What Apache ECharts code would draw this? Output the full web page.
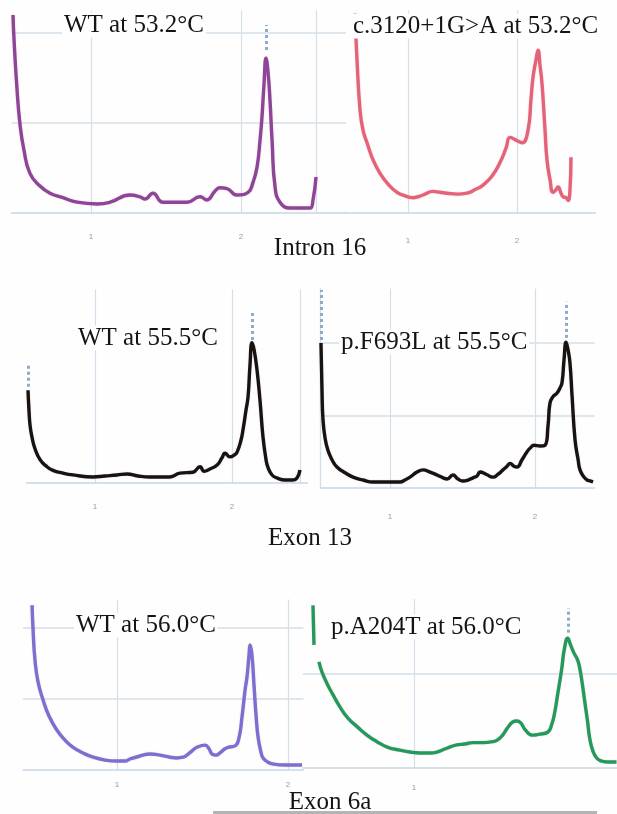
<!DOCTYPE html>
<html>
<head>
<meta charset="utf-8">
<script src="https://cdn.jsdelivr.net/npm/echarts@6/dist/echarts.min.js"></script>
<style>
  html, body { margin: 0; padding: 0; background: #fffefe; }
  #chart { width: 617px; height: 814px; }
</style>
</head>
<body>
<div id="chart"></div>
<script>
// melting curves, [x, -dF/dT]
var wt532 = [[0.48,2.2],[0.487,1.92],[0.507,1.37],[0.527,0.98],[0.553,0.70],[0.593,0.44],[0.66,0.30],[0.727,0.22],[0.813,0.17],[0.907,0.12],[1.04,0.10],[1.127,0.12],[1.26,0.20],[1.327,0.18],[1.36,0.155],[1.413,0.22],[1.48,0.12],[1.64,0.12],[1.727,0.18],[1.773,0.145],[1.827,0.245],[1.86,0.28],[1.907,0.27],[1.973,0.20],[2.047,0.23],[2.08,0.34],[2.107,0.51],[2.127,0.81],[2.14,1.07],[2.153,1.42],[2.167,1.72],[2.18,1.57],[2.193,1.26],[2.207,0.81],[2.227,0.29],[2.26,0.12],[2.327,0.055],[2.46,0.055],[2.48,0.145],[2.5,0.40]];
var mut3120 = [[0.514,2.22],[0.532,1.70],[0.56,1.14],[0.587,0.92],[0.624,0.78],[0.679,0.59],[0.743,0.44],[0.817,0.32],[0.899,0.23],[0.972,0.19],[1.046,0.17],[1.138,0.20],[1.229,0.24],[1.294,0.23],[1.358,0.22],[1.45,0.21],[1.541,0.22],[1.615,0.26],[1.688,0.31],[1.771,0.41],[1.844,0.56],[1.899,0.72],[1.936,0.84],[1.991,0.81],[2.046,0.78],[2.101,0.92],[2.128,1.26],[2.147,1.51],[2.174,1.70],[2.193,1.81],[2.211,1.64],[2.229,1.44],[2.257,0.92],[2.275,0.59],[2.303,0.37],[2.33,0.23],[2.358,0.26],[2.376,0.29],[2.404,0.22],[2.422,0.18],[2.45,0.17],[2.468,0.14],[2.486,0.26],[2.495,0.62]];
var wt555 = [[0.511,1.03],[0.518,0.81],[0.526,0.64],[0.54,0.51],[0.562,0.38],[0.599,0.26],[0.642,0.19],[0.693,0.14],[0.766,0.11],[0.839,0.09],[0.985,0.067],[1.073,0.078],[1.161,0.089],[1.234,0.10],[1.314,0.078],[1.401,0.067],[1.547,0.067],[1.62,0.11],[1.715,0.12],[1.766,0.18],[1.796,0.13],[1.839,0.156],[1.891,0.20],[1.927,0.28],[1.949,0.33],[1.985,0.29],[2.015,0.31],[2.036,0.34],[2.066,0.48],[2.08,0.59],[2.102,0.81],[2.117,0.96],[2.131,1.31],[2.146,1.56],[2.161,1.48],[2.182,1.26],[2.204,0.92],[2.226,0.51],[2.248,0.26],[2.263,0.17],[2.292,0.089],[2.328,0.056],[2.387,0.033],[2.445,0.033],[2.474,0.056],[2.496,0.144]];
var f693l = [[0.524,2.0],[0.531,1.35],[0.538,0.94],[0.552,0.69],[0.572,0.52],[0.6,0.39],[0.634,0.29],[0.69,0.21],[0.745,0.15],[0.814,0.11],[0.883,0.083],[1.0,0.083],[1.069,0.083],[1.103,0.11],[1.138,0.15],[1.186,0.22],[1.228,0.25],[1.276,0.22],[1.324,0.18],[1.366,0.14],[1.393,0.124],[1.434,0.18],[1.469,0.124],[1.503,0.097],[1.538,0.11],[1.572,0.14],[1.6,0.166],[1.621,0.22],[1.662,0.19],[1.71,0.15],[1.745,0.19],[1.779,0.25],[1.807,0.30],[1.828,0.34],[1.855,0.30],[1.876,0.29],[1.91,0.39],[1.945,0.50],[1.966,0.55],[1.993,0.59],[2.034,0.58],[2.069,0.59],[2.09,0.87],[2.103,1.17],[2.124,1.26],[2.152,1.31],[2.172,1.38],[2.186,1.45],[2.2,1.77],[2.214,2.01],[2.228,1.90],[2.241,1.72],[2.255,1.28],[2.276,0.66],[2.297,0.39],[2.31,0.25],[2.338,0.15],[2.359,0.11],[2.379,0.097],[2.4,0.083]];
var wt560 = [[0.503,2.32],[0.509,1.97],[0.52,1.55],[0.538,1.24],[0.567,0.99],[0.602,0.76],[0.649,0.56],[0.696,0.42],[0.743,0.32],[0.801,0.24],[0.86,0.18],[0.93,0.14],[1.0,0.127],[1.047,0.127],[1.076,0.155],[1.135,0.197],[1.193,0.225],[1.251,0.21],[1.31,0.18],[1.351,0.17],[1.386,0.18],[1.409,0.21],[1.439,0.27],[1.468,0.32],[1.515,0.35],[1.538,0.30],[1.556,0.225],[1.579,0.21],[1.602,0.24],[1.632,0.30],[1.649,0.32],[1.69,0.34],[1.713,0.45],[1.731,0.75],[1.749,1.13],[1.76,1.31],[1.772,1.62],[1.778,1.76],[1.789,1.62],[1.801,1.20],[1.813,0.77],[1.825,0.46],[1.842,0.25],[1.854,0.17],[1.883,0.11],[1.912,0.085],[1.982,0.07],[2.082,0.07]];
var a204t = [[0.409,1.73],[0.415,1.31],[0.417,null],[0.444,1.13],[0.462,1.02],[0.491,0.90],[0.526,0.78],[0.567,0.65],[0.614,0.53],[0.667,0.44],[0.725,0.35],[0.784,0.28],[0.848,0.22],[0.918,0.19],[0.977,0.17],[1.035,0.16],[1.094,0.16],[1.135,0.17],[1.193,0.21],[1.251,0.245],[1.298,0.255],[1.345,0.27],[1.404,0.27],[1.462,0.28],[1.491,0.30],[1.52,0.35],[1.55,0.43],[1.579,0.49],[1.602,0.50],[1.626,0.48],[1.655,0.40],[1.696,0.35],[1.737,0.36],[1.784,0.38],[1.807,0.46],[1.825,0.59],[1.842,0.78],[1.865,1.04],[1.883,1.28],[1.901,1.38],[1.918,1.31],[1.936,1.23],[1.959,1.15],[1.971,1.07],[1.988,0.88],[2.0,0.72],[2.018,0.49],[2.029,0.33],[2.047,0.19],[2.071,0.106],[2.099,0.074],[2.129,0.064],[2.187,0.064]];

// dotted peak-pick markers: [x, yFrom, yTo]
var marks532wt = [[2.167,1.81,2.09]];
var marks555wt = [[0.511,1.07,1.33],[2.146,1.59,1.92]];
var marks693 = [[0.524,2.04,2.73],[2.214,2.07,2.57]];
var marks204 = [[1.906,1.44,1.70]];

var tickLabels = ['1', '2'];

var serif = '"Liberation Serif", "DejaVu Serif", serif';
var gridColor = '#d3dfe9';

// panel layout: grid box + axis ranges
var panels = [
  { left: 11.5, top: 10.5, width: 334.5, height: 202.5, xmin: 0.47, xmax: 2.7, ymax: 2.25, xLines: [1, 2, 2.5], yLines: [1, 2], labels: [1, 2], labelMargin: 20, data: wt532, color: '#8b4599', marks: marks532wt },
  { left: 344.8, top: 10.5, width: 250.7, height: 202.5, xmin: 0.42, xmax: 2.72, ymax: 2.25, xLines: [1, 2], yLines: [], labels: [1, 2], labelMargin: 24, data: mut3120, color: '#e2637a', marks: [] },
  { left: 26.5, top: 289.5, width: 280.9, height: 193.5, xmin: 0.5, xmax: 2.55, ymax: 2.15, xLines: [1, 2, 2.5], yLines: [], labels: [1, 2], labelMargin: 20, data: wt555, color: '#141414', marks: marks555wt },
  { left: 320.4, top: 288.6, width: 274.1, height: 199.4, xmin: 0.52, xmax: 2.41, ymax: 2.75, xLines: [0.52, 1, 2], yLines: [1, 2], labels: [1, 2], labelMargin: 25, data: f693l, color: '#141414', marks: marks693 },
  { left: 23, top: 599.6, width: 280.4, height: 170.4, xmin: 0.45, xmax: 2.09, ymax: 2.4, xLines: [1, 2], yLines: [1, 2], labels: [1, 2], labelMargin: 11, data: wt560, color: '#7a6fd2', marks: [] },
  { left: 302.9, top: 598.8, width: 314.6, height: 169.2, xmin: 0.35, xmax: 2.19, ymax: 1.8, xLines: [1], yLines: [1], labels: [1], labelMargin: 16, data: a204t, color: '#219a5e', marks: marks204 }
];

var grids = [], xAxes = [], yAxes = [], series = [];
panels.forEach(function (p, i) {
  grids.push({ left: p.left, top: p.top, width: p.width, height: p.height });
  xAxes.push({
    type: 'value', gridIndex: i, min: p.xmin, max: p.xmax,
    axisLine: { show: true, lineStyle: { color: '#c8d7e4', width: 1.5 } },
    axisTick: { show: false, customValues: p.xLines },
    axisLabel: {
      customValues: p.labels,
      margin: p.labelMargin, fontSize: 8, color: '#7f9fbf',
      formatter: function (v) { return tickLabels[Math.round(v) - 1]; }
    },
    splitLine: { show: true, lineStyle: { color: gridColor, width: 1.2 } }
  });
  yAxes.push({
    type: 'value', gridIndex: i, min: 0, max: p.ymax,
    axisLine: { show: i === 3, lineStyle: { color: '#d3dfe9', width: 1.2 } },
    axisTick: { show: false, customValues: p.yLines },
    axisLabel: { show: false },
    splitLine: { show: p.yLines.length > 0, lineStyle: { color: gridColor, width: 1.5 } }
  });
  series.push({
    type: 'line', xAxisIndex: i, yAxisIndex: i,
    data: p.data, showSymbol: false, smooth: 0.5,
    connectNulls: false, silent: true,
    lineStyle: { color: p.color, width: 3.4, shadowColor: 'rgba(240,150,150,0.35)', shadowBlur: 2 },
    markLine: {
      silent: true, symbol: 'none', label: { show: false },
      lineStyle: { type: 'dotted', color: '#8eabc8', width: 3 },
      data: p.marks.map(function (m) { return [{ coord: [m[0], m[1]] }, { coord: [m[0], m[2]] }]; })
    }
  });
});

function label(text, x, y, align) {
  return {
    type: 'text', x: x, y: y, z: 100,
    style: {
      text: text, font: '25px ' + serif, fill: '#141414',
      textAlign: align || 'left', align: align || 'left',
      textVerticalAlign: 'middle', verticalAlign: 'middle',
      backgroundColor: '#fffefe', padding: [0, 2]
    }
  };
}

var chart = echarts.init(document.getElementById('chart'));
chart.setOption({
  backgroundColor: '#fffefe',
  animation: false,
  grid: grids,
  xAxis: xAxes,
  yAxis: yAxes,
  series: series,
  graphic: [
    label('WT at 53.2°C', 62, 25),
    label('c.3120+1G>A at 53.2°C', 351, 26),
    label('Intron 16', 320, 248, 'center'),
    label('WT at 55.5°C', 76, 338),
    label('p.F693L at 55.5°C', 339, 342),
    label('Exon 13', 310, 538, 'center'),
    label('WT at 56.0°C', 74, 625),
    label('p.A204T at 56.0°C', 329, 627),
    label('Exon 6a', 330, 802, 'center'),
    { type: 'rect', z: 110, shape: { x: 213, y: 811, width: 384, height: 3 }, style: { fill: '#b4b4b4' } }
  ]
});
</script>
</body>
</html>
